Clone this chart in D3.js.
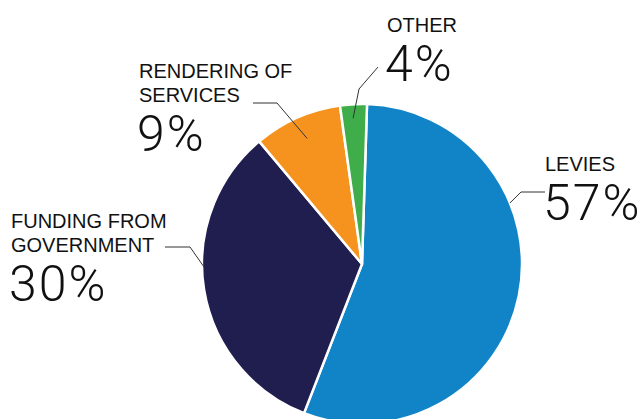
<!DOCTYPE html>
<html>
<head>
<meta charset="utf-8">
<script src="https://cdn.jsdelivr.net/npm/d3@7"></script>
<style>
  html, body { margin: 0; padding: 0; background: #fff; }
  svg { display: block; }
  .name { font-family: "Liberation Sans", Arial, sans-serif; font-size: 20px; fill: #111; }
  .pct { font-family: Roboto, "Liberation Sans", sans-serif; font-weight: 300; font-size: 50px; letter-spacing: 2px; fill: #111; }
</style>
</head>
<body>
<script>
// ---- data ----
const categories = ["LEVIES", "FUNDING FROM GOVERNMENT", "RENDERING OF SERVICES", "OTHER"];
const nameLines = [["LEVIES"], ["FUNDING FROM", "GOVERNMENT"], ["RENDERING OF", "SERVICES"], ["OTHER"]];
const percentLabels = ["57%", "30%", "9%", "4%"];
// slice shares as drawn in the picture (percent of the circle)
const shares = [55.4, 33.0, 8.9, 2.7];
const colors = ["#1184c8", "#201e4e", "#f6931e", "#3fae4a"];

// ---- layout ----
const W = 641, H = 419;
const cx = 362, cy = 264, R = 160;
const startDeg = 1.8;
// annotation layout: anchor on slice (angle deg, radius), elbow point, end point, text origin
const notes = [
  { anchor: [67.6, 160], elbow: [521, 192], end: [545, 192], tx: 545, ty: 171 },
  { anchor: [268.9, 158], elbow: [190, 247], end: [165, 247], tx: 11, ty: 228 },
  { anchor: [336.4, 137], elbow: [277, 103], end: [253, 103], tx: 139, ty: 78 },
  { anchor: [356.5, 146], elbow: [359, 89], end: [378, 67], tx: 387, ty: 32 }
];

const svg = d3.select("body").append("svg").attr("width", W).attr("height", H);
svg.append("rect").attr("width", W).attr("height", H).attr("fill", "#fff");

const rad = d => d * Math.PI / 180;
const pie = d3.pie().sort(null).value(d => d)
  .startAngle(rad(startDeg)).endAngle(rad(startDeg) + 2 * Math.PI);
const arc = d3.arc().innerRadius(0).outerRadius(R);

const g = svg.append("g").attr("transform", `translate(${cx},${cy})`);
g.selectAll("path").data(pie(shares)).join("path")
  .attr("d", arc)
  .attr("fill", (d, i) => colors[i])
  .attr("stroke", "#fff")
  .attr("stroke-width", 2.5)
  .attr("stroke-linejoin", "round");

// leader lines
const polar = (a, r) => [cx + r * Math.sin(rad(a)), cy - r * Math.cos(rad(a))];
svg.append("g").selectAll("polyline").data(notes).join("polyline")
  .attr("points", n => [polar(n.anchor[0], n.anchor[1]), n.elbow, n.end].map(p => p.join(",")).join(" "))
  .attr("fill", "none").attr("stroke", "#333").attr("stroke-width", 1);

// labels
const lab = svg.append("g");
notes.forEach((n, i) => {
  const lines = nameLines[i];
  lines.forEach((t, j) => {
    lab.append("text").attr("class", "name").attr("x", n.tx).attr("y", n.ty + j * 24).text(t);
  });
  lab.append("text").attr("class", "pct")
    .attr("x", n.tx - 2).attr("y", n.ty + (lines.length - 1) * 24 + 49)
    .text(percentLabels[i]);
});
</script>
</body>
</html>
